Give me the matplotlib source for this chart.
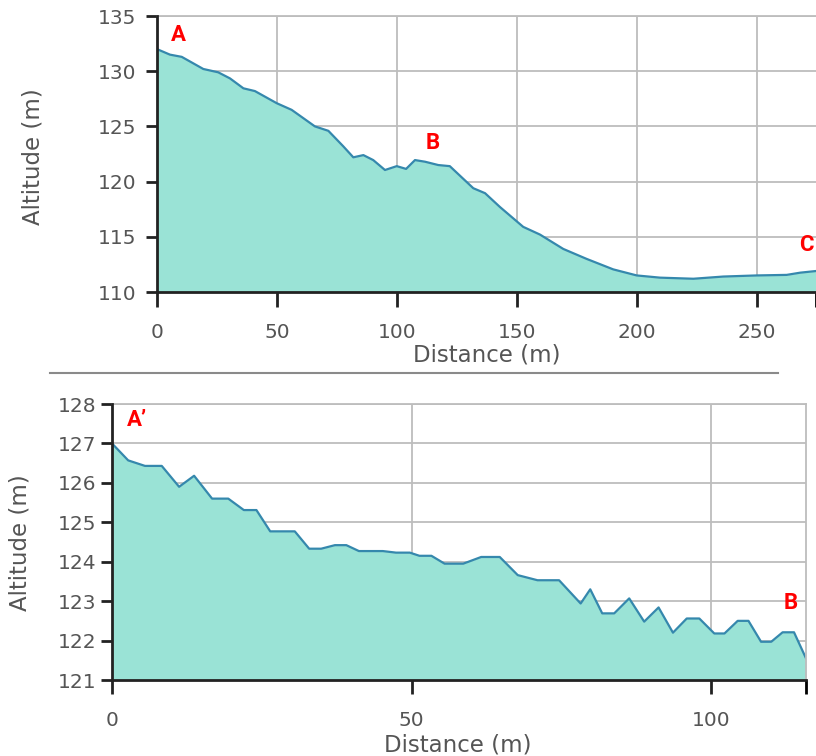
import matplotlib
matplotlib.use("Agg")
import matplotlib.pyplot as plt

# Profil A - B - C
dist_abc = [0, 5.4, 10.3, 19.3, 25.5, 30.4, 36, 40.8, 49.9, 56.1, 65.8, 71.4, 77.6,
            81.8, 86, 90.1, 95, 99.9, 103.8, 107.5, 111.7, 117.2, 122, 131.8, 136.7,
            142.9, 152.6, 159.6, 169.3, 179, 190.1, 199.9, 209.6, 223.5, 236, 249.9,
            262.4, 268, 274.6]
alt_abc = [132.0, 131.5, 131.3, 130.2, 129.9, 129.35, 128.45, 128.2, 127.1, 126.5,
           125.0, 124.6, 123.2, 122.2, 122.4, 121.95, 121.05, 121.4, 121.15, 121.95,
           121.8, 121.5, 121.4, 119.4, 118.95, 117.7, 115.9, 115.2, 113.9, 113.0,
           112.05, 111.5, 111.3, 111.2, 111.4, 111.5, 111.55, 111.75, 111.9]

# Profil A' - B
dist_ab = [0, 2.7, 5.5, 8.3, 11.2, 13.7, 16.7, 19.4, 22, 24.1, 26.4, 30.5, 32.9, 34.9,
           37.2, 39.1, 41.2, 45.2, 47.4, 49.7, 51.3, 53.3, 55.5, 58.6, 61.6, 64.7,
           67.7, 71, 74.6, 78.2, 79.8, 81.8, 83.8, 86.3, 88.8, 91.2, 93.6, 95.9, 98,
           100.5, 102.2, 104.4, 106.2, 108.3, 110, 111.9, 113.8, 115.8]
alt_ab = [127.0, 126.57, 126.43, 126.43, 125.9, 126.18, 125.6, 125.6, 125.31, 125.31,
          124.77, 124.77, 124.33, 124.33, 124.42, 124.42, 124.27, 124.27, 124.23,
          124.23, 124.15, 124.15, 123.95, 123.95, 124.12, 124.12, 123.66, 123.53,
          123.53, 122.94, 123.3, 122.69, 122.69, 123.07, 122.48, 122.84, 122.2,
          122.56, 122.56, 122.18, 122.18, 122.5, 122.5, 121.97, 121.97, 122.21,
          122.21, 121.55]

FILL = "#9ae3d6"
LINE = "#3588ad"
GRID = "#bdbdbd"
TXT = "#555555"
RED = "#ff0000"

W, H = 816, 756
fig = plt.figure(figsize=(W / 100, H / 100), dpi=100)


def px(x0, y0, x1, y1):
    # rectangle en pixels -> coordonnées figure
    return [x0 / W, 1 - y1 / H, (x1 - x0) / W, (y1 - y0) / H]


def style_axes(ax, right_border):
    ax.grid(True, color=GRID, linewidth=1.3)
    ax.set_axisbelow(True)
    for s in ["left", "bottom"]:
        ax.spines[s].set_color("#222222")
        ax.spines[s].set_linewidth(2)
    ax.spines["top"].set_visible(False)
    if right_border:
        ax.spines["right"].set_color(GRID)
        ax.spines["right"].set_linewidth(1.3)
    else:
        ax.spines["right"].set_visible(False)
    ax.tick_params(axis="both", colors="#222222", labelcolor=TXT, labelsize=14.5,
                   width=2, length=8, direction="out")


def lettre(ax, x, y, s):
    ax.text(x, y, s, color=RED, fontsize=16, fontweight="bold", family="Roboto",
            ha="center", va="center")


# --- graphique du haut ---
ax1 = fig.add_axes(px(157, 16, 816, 292))
ax1.fill_between(dist_abc, alt_abc, 110, color=FILL, linewidth=0)
ax1.plot(dist_abc, alt_abc, color=LINE, linewidth=1.6)
ax1.set_xlim(0, 274.6)
ax1.set_ylim(110, 135)
ax1.set_xticks([0, 50, 100, 150, 200, 250])
ax1.set_xticks([274.6], minor=True)
ax1.set_yticks([110, 115, 120, 125, 130, 135])
style_axes(ax1, right_border=False)
ax1.tick_params(axis="x", which="both", length=11, width=2, pad=11)
ax1.tick_params(axis="y", pad=7)
ax1.axhline(135, color=GRID, linewidth=1.3, clip_on=False)
lettre(ax1, 8.8, 133.3, "A")
lettre(ax1, 115, 123.5, "B")
lettre(ax1, 270.5, 114.3, "C")

fig.text(33 / W, 1 - 157 / H, "Altitude (m)", rotation=90, ha="center", va="center",
         fontsize=16.5, color=TXT)
fig.text(487 / W, 1 - 355 / H, "Distance (m)", ha="center", va="center",
         fontsize=16.5, color=TXT)

# ligne de séparation
fig.add_artist(plt.Line2D([50 / W, 778 / W], [1 - 373 / H, 1 - 373 / H],
                          color="#8a8a8a", linewidth=1.5))

# --- graphique du bas ---
ax2 = fig.add_axes(px(112, 404, 806, 680))
ax2.fill_between(dist_ab, alt_ab, 121, color=FILL, linewidth=0)
ax2.plot(dist_ab, alt_ab, color=LINE, linewidth=1.6)
ax2.set_xlim(0, 115.8)
ax2.set_ylim(121, 128)
ax2.set_xticks([0, 50, 100])
ax2.set_xticks([115.8], minor=True)
ax2.set_yticks(range(121, 129))
style_axes(ax2, right_border=True)
ax2.tick_params(axis="x", which="both", length=10, width=2, pad=12)
ax2.tick_params(axis="y", length=8, pad=3)
ax2.axhline(128, color=GRID, linewidth=1.3, clip_on=False)
lettre(ax2, 4.2, 127.6, "A\u2019")
lettre(ax2, 113.2, 122.95, "B")

fig.text(20 / W, 1 - 543 / H, "Altitude (m)", rotation=90, ha="center", va="center",
         fontsize=16.5, color=TXT)
fig.text(458 / W, 1 - 745 / H, "Distance (m)", ha="center", va="center",
         fontsize=16.5, color=TXT)

fig.savefig("out.png", dpi=100)
